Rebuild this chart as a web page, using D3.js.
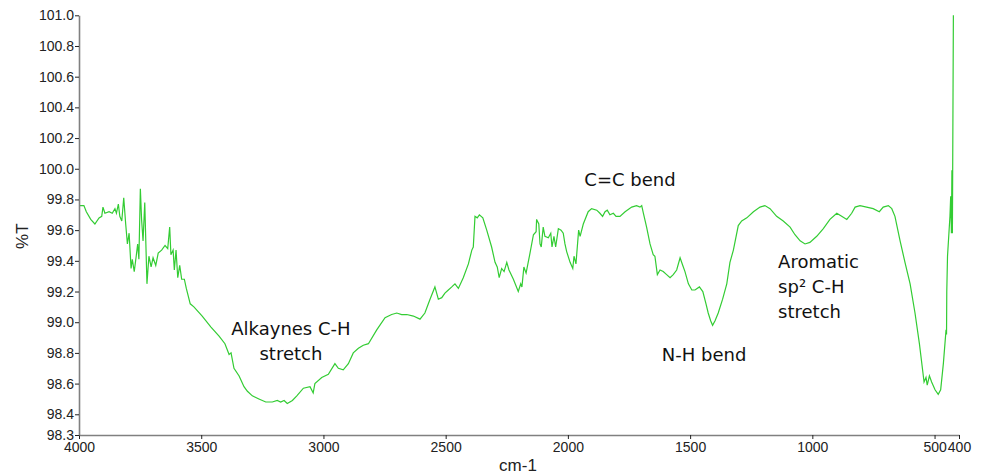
<!DOCTYPE html>
<html>
<head>
<meta charset="utf-8">
<script src="https://cdn.jsdelivr.net/npm/d3@7"></script>
<style>
body { margin: 0; background: #fff; }
#display { width: 986px; height: 475px; overflow: hidden; }
.axis text { font-family: "Liberation Sans", Arial, sans-serif; font-size: 14px; fill: #222; }
.axis .domain { stroke: #808080; stroke-width: 1.6; }
.axis line { stroke: #222; }
.note { font-family: "DejaVu Sans", Verdana, sans-serif; font-size: 18px; fill: #111; }
.title { font-family: "Liberation Sans", Arial, sans-serif; font-size: 17px; fill: #222; }
</style>
</head>
<body>
<div id="display"></div>
<script>
// spectrum (cm-1, %T)
var wavenumbers = [4000, 3989, 3980, 3970, 3952, 3935, 3918, 3907, 3902, 3894, 3877, 3864, 3853, 3847, 3839, 3833, 3825, 3817, 3809, 3802,
	3795, 3787, 3782, 3774, 3766, 3760, 3755, 3749, 3744, 3738, 3731, 3722, 3714, 3705, 3697, 3686, 3676, 3662, 3648, 3637,
	3629, 3624, 3615, 3610, 3603, 3596, 3588, 3580, 3569, 3561, 3553, 3545, 3530, 3496, 3461, 3427, 3403, 3386, 3378, 3366,
	3345, 3325, 3311, 3291, 3264, 3236, 3209, 3189, 3175, 3161, 3148, 3127, 3109, 3082, 3055, 3042, 3035, 3007, 2980, 2953,
	2939, 2919, 2898, 2878, 2857, 2837, 2816, 2782, 2748, 2721, 2700, 2680, 2659, 2632, 2605, 2585, 2564, 2544, 2530, 2516,
	2503, 2489, 2475, 2462, 2448, 2428, 2407, 2393, 2387, 2380, 2371, 2362, 2348, 2332, 2312, 2298, 2289, 2281, 2271, 2261,
	2250, 2241, 2223, 2203, 2193, 2188, 2180, 2171, 2155, 2141, 2130, 2128, 2119, 2114, 2109, 2101, 2094, 2080, 2070, 2065,
	2057, 2050, 2039, 2028, 2019, 2012, 2005, 1991, 1980, 1975, 1967, 1956, 1950, 1937, 1917, 1903, 1882, 1869, 1858, 1848,
	1839, 1828, 1814, 1803, 1787, 1766, 1739, 1719, 1705, 1698, 1691, 1678, 1664, 1651, 1644, 1634, 1623, 1610, 1596, 1582,
	1569, 1555, 1541, 1530, 1521, 1507, 1493, 1480, 1462, 1448, 1435, 1426, 1416, 1408, 1398, 1385, 1367, 1350, 1337, 1323,
	1303, 1289, 1268, 1241, 1214, 1194, 1173, 1146, 1119, 1091, 1071, 1050, 1030, 1010, 982, 955, 928, 900, 880, 859,
	839, 825, 805, 778, 751, 726, 710, 689, 675, 662, 641, 621, 600, 580, 562, 549, 543, 535, 530, 521,
	512, 498, 485, 475, 464, 453, 451, 450, 447, 437, 434, 431, 429, 427, 423];

var transmittance = [99.76, 99.76, 99.76, 99.72, 99.67, 99.64, 99.68, 99.69, 99.75, 99.71, 99.72, 99.71, 99.74, 99.71, 99.77, 99.69, 99.66, 99.81, 99.64, 99.51,
	99.58, 99.35, 99.41, 99.33, 99.43, 99.51, 99.41, 99.87, 99.67, 99.53, 99.78, 99.25, 99.43, 99.36, 99.42, 99.37, 99.45, 99.47, 99.50, 99.48,
	99.62, 99.44, 99.47, 99.34, 99.47, 99.29, 99.37, 99.28, 99.28, 99.22, 99.17, 99.12, 99.10, 99.04, 98.97, 98.91, 98.86, 98.79, 98.80, 98.70,
	98.65, 98.58, 98.55, 98.52, 98.50, 98.48, 98.48, 98.49, 98.48, 98.49, 98.47, 98.49, 98.52, 98.57, 98.58, 98.54, 98.60, 98.64, 98.66, 98.73,
	98.70, 98.69, 98.73, 98.80, 98.83, 98.85, 98.86, 98.95, 99.03, 99.05, 99.06, 99.05, 99.05, 99.04, 99.02, 99.06, 99.15, 99.23, 99.15, 99.16,
	99.19, 99.21, 99.23, 99.25, 99.22, 99.29, 99.38, 99.47, 99.49, 99.69, 99.68, 99.70, 99.68, 99.60, 99.49, 99.39, 99.36, 99.29, 99.35, 99.33,
	99.39, 99.34, 99.28, 99.20, 99.25, 99.23, 99.36, 99.32, 99.45, 99.57, 99.59, 99.67, 99.64, 99.51, 99.49, 99.62, 99.56, 99.55, 99.58, 99.49,
	99.56, 99.49, 99.61, 99.60, 99.58, 99.51, 99.46, 99.39, 99.35, 99.43, 99.38, 99.60, 99.56, 99.64, 99.72, 99.74, 99.73, 99.71, 99.69, 99.72,
	99.73, 99.70, 99.71, 99.69, 99.69, 99.72, 99.75, 99.76, 99.75, 99.76, 99.71, 99.62, 99.51, 99.44, 99.43, 99.31, 99.34, 99.33, 99.31, 99.29,
	99.31, 99.34, 99.42, 99.37, 99.33, 99.25, 99.21, 99.21, 99.23, 99.20, 99.12, 99.06, 99.01, 98.98, 99.01, 99.06, 99.15, 99.25, 99.39, 99.47,
	99.63, 99.66, 99.68, 99.72, 99.75, 99.76, 99.74, 99.69, 99.66, 99.62, 99.57, 99.53, 99.51, 99.52, 99.56, 99.61, 99.67, 99.71, 99.69, 99.67,
	99.71, 99.75, 99.76, 99.75, 99.74, 99.72, 99.75, 99.76, 99.74, 99.69, 99.53, 99.39, 99.25, 99.06, 98.86, 98.69, 98.61, 98.64, 98.59, 98.65,
	98.61, 98.56, 98.53, 98.56, 98.73, 98.95, 98.92, 99.20, 99.43, 99.69, 99.82, 99.58, 99.99, 99.58, 101.0];

var xTicks = [4000, 3500, 3000, 2500, 2000, 1500, 1000, 500, 400];
var yTicks = [98.4, 98.6, 98.8, 99.0, 99.2, 99.4, 99.6, 99.8, 100.0, 100.2, 100.4, 100.6, 100.8, 101.0];
var yMin = 98.265, yMax = 101.0;

var notes = [
	{lines: ["Alkaynes C-H", "stretch"], w: 3133, t: 98.915, anchor: "middle"},
	{lines: ["C=C bend"], w: 1746, t: 99.89, anchor: "middle"},
	{lines: ["N-H bend"], w: 1443, t: 98.75, anchor: "middle"},
	{lines: ["Aromatic", "sp\u00b2 C-H", "stretch"], w: 1140, t: 99.35, anchor: "start"}
];

var margin = {top: 15.3, right: 27, bottom: 40, left: 79},
	width = 986 - margin.left - margin.right,
	height = 475 - margin.top - margin.bottom;

var x = d3.scaleLinear().domain([4000, 400]).range([0, width]);
var y = d3.scaleLinear().domain([yMin, yMax]).range([height, 0]);

var data = wavenumbers.map(function(w, i) { return {w: w, t: transmittance[i]}; });

var valueline = d3.line()
	.x(function(d) { return x(d.w); })
	.y(function(d) { return y(d.t); });

var svg = d3.select("#display").append("svg")
	.attr("width", 986)
	.attr("height", 475)
	.append("g")
	.attr("transform", "translate(" + margin.left + "," + margin.top + ")");

svg.append("path")
	.datum(data)
	.attr("d", valueline)
	.attr("fill", "none")
	.attr("stroke", "#33cc33")
	.attr("stroke-width", 1.2);

svg.append("g")
	.attr("class", "axis")
	.attr("transform", "translate(0," + height + ")")
	.call(d3.axisBottom(x).tickValues(xTicks).tickFormat(d3.format("d")).tickSize(4).tickPadding(3).tickSizeOuter(0));

svg.append("g")
	.attr("class", "axis")
	.call(d3.axisLeft(y).tickValues([yMin].concat(yTicks)).tickFormat(d3.format(".1f")).tickSize(4).tickPadding(1).tickSizeOuter(0));

notes.forEach(function(n) {
	var t = svg.append("text")
		.attr("class", "note")
		.attr("text-anchor", n.anchor)
		.attr("x", x(n.w))
		.attr("y", y(n.t));
	n.lines.forEach(function(s, i) {
		t.append("tspan").attr("x", x(n.w)).attr("dy", i == 0 ? 0 : 25).text(s);
	});
});

svg.append("text")
	.attr("class", "title")
	.attr("text-anchor", "middle")
	.attr("x", width / 2 - 1)
	.attr("y", height + 36)
	.text("cm-1");

svg.append("text")
	.attr("class", "title")
	.attr("text-anchor", "middle")
	.attr("transform", "translate(-51," + (height / 2 + 11) + ") rotate(-90)")
	.text("%T");
</script>
</body>
</html>
